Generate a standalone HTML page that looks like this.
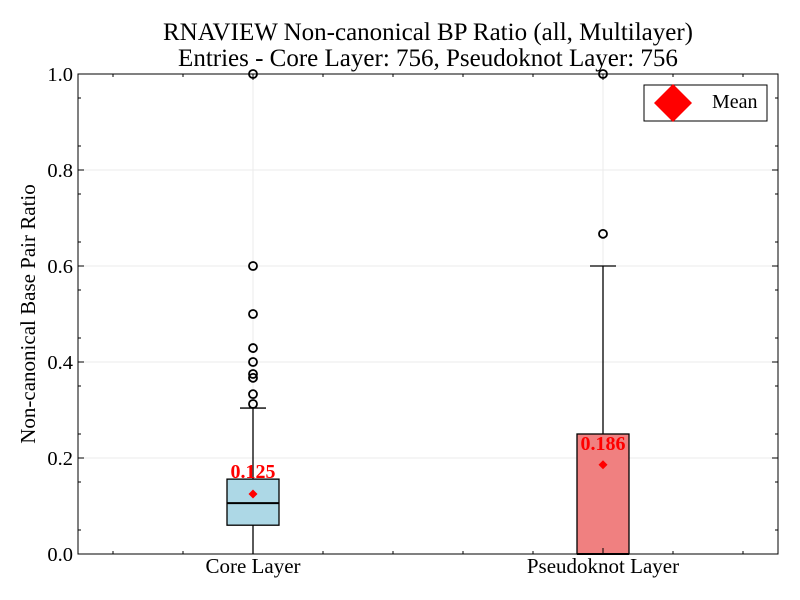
<!DOCTYPE html>
<html><head><meta charset="utf-8"><style>body{margin:0;background:#fff}svg{display:block}</style></head>
<body>
<svg id="chart" width="800" height="600" viewBox="0 0 800 600" xmlns="http://www.w3.org/2000/svg" font-family="Liberation Serif, serif">
<text x="428" y="40" text-anchor="middle" font-size="25">RNAVIEW Non-canonical BP Ratio (all, Multilayer)</text>
<text x="428" y="66" text-anchor="middle" font-size="25">Entries - Core Layer: 756, Pseudoknot Layer: 756</text>
<text transform="translate(35,314) rotate(-90)" text-anchor="middle" font-size="21">Non-canonical Base Pair Ratio</text>
<g id="grid"></g><g id="marks"></g><g id="axes"></g>
<rect x="78" y="74" width="700" height="480" fill="none" stroke="#000" stroke-width="1"/>
<g>
<rect x="644" y="85" width="123" height="36" fill="#fff" stroke="#000"/>
<path d="M673 84 L692 103 L673 122 L654 103 Z" fill="red"/>
<text x="712" y="108" font-size="20">Mean</text>
</g>
</svg>
<script>
const categories = ["Core Layer", "Pseudoknot Layer"];
const q1 = [0.060, 0.0];
const medians = [0.106, 0.0];
const q3 = [0.156, 0.25];
const whiskLo = [0.0, 0.0];
const whiskHi = [0.304, 0.6];
const means = [0.125, 0.186];
const meanLabels = ["0.125", "0.186"];
const outliers = [[1.0, 0.6, 0.5, 0.429, 0.4, 0.375, 0.367, 0.333, 0.3125], [1.0, 0.667]];
const colors = ["#add8e6", "#f08080"];
const yTicks = [0, 0.2, 0.4, 0.6, 0.8, 1.0];
const yTickLabels = ["0.0", "0.2", "0.4", "0.6", "0.8", "1.0"];

const NS = "http://www.w3.org/2000/svg";
const L = 78, R = 778, T = 74, B = 554;
const y = v => B - v * (B - T);
const x = i => 253 + i * 350;
function mk(tag, attrs, parent) { const e = document.createElementNS(NS, tag); for (const k in attrs) e.setAttribute(k, attrs[k]); parent.appendChild(e); return e; }
const grid = document.getElementById('grid'), marks = document.getElementById('marks'), axes = document.getElementById('axes');

yTicks.forEach((v, i) => {
  const g = mk('line', {x1: L, x2: R, y1: y(v), y2: y(v), stroke: '#ebebeb', 'stroke-width': 1}, grid);
  
  
  mk('line', {x1: L, x2: L + 6, y1: y(v), y2: y(v), stroke: '#000'}, axes);
  mk('line', {x1: R, x2: R - 6, y1: y(v), y2: y(v), stroke: '#000'}, axes);
  const t = mk('text', {x: L - 5, y: y(v) + 7, 'text-anchor': 'end', 'font-size': 20.5}, axes);
  t.textContent = yTickLabels[i];
  
  
});
for (let v = 0.05; v < 1; v += 0.1) {
  mk('line', {x1: L, x2: L + 3, y1: y(v), y2: y(v), stroke: '#000'}, axes);
  mk('line', {x1: R, x2: R - 3, y1: y(v), y2: y(v), stroke: '#000'}, axes);
}
for (let xm = 113; xm < R; xm += 70) {
  mk('line', {x1: xm, x2: xm, y1: B, y2: B - 3, stroke: '#000'}, axes);
  mk('line', {x1: xm, x2: xm, y1: T, y2: T + 3, stroke: '#000'}, axes);
}
categories.forEach((c, i) => {
  const cx = x(i);
  const g = mk('line', {x1: cx, x2: cx, y1: T, y2: B, stroke: '#ebebeb'}, grid);
  
  
  mk('line', {x1: cx, x2: cx, y1: B, y2: B - 6, stroke: '#000'}, axes);
  mk('line', {x1: cx, x2: cx, y1: T, y2: T + 6, stroke: '#000'}, axes);
  const t = mk('text', {x: cx, y: 573, 'text-anchor': 'middle', 'font-size': 21}, axes);
  t.textContent = c;
  
  

  const w = mk('line', {x1: cx, x2: cx, y1: y(q3[i]), y2: y(whiskHi[i]), stroke: '#000', 'stroke-width': 1.3}, marks);
  
  
  const cap = mk('line', {x1: cx - 13, x2: cx + 13, y1: y(whiskHi[i]), y2: y(whiskHi[i]), stroke: '#000', 'stroke-width': 1.3}, marks);
  
  
  const wl = mk('line', {x1: cx, x2: cx, y1: y(q1[i]), y2: y(whiskLo[i]), stroke: '#000', 'stroke-width': 1.3}, marks);
  
  
  const box = mk('rect', {x: cx - 26, y: y(q3[i]), width: 52, height: y(q1[i]) - y(q3[i]), fill: colors[i], stroke: '#000', 'stroke-width': 1.3}, marks);
  
  
  const med = mk('line', {x1: cx - 26, x2: cx + 26, y1: y(medians[i]), y2: y(medians[i]), stroke: '#000', 'stroke-width': 2}, marks);
  
  
  outliers[i].forEach(o => {
    const c2 = mk('circle', {cx: cx, cy: y(o), r: 4, fill: 'none', stroke: '#000', 'stroke-width': 1.8}, marks);
    
    
  });
  const my = y(means[i]);
  const m = mk('path', {d: `M${cx} ${my - 4.5} L${cx + 4.5} ${my} L${cx} ${my + 4.5} L${cx - 4.5} ${my} Z`, fill: 'red'}, marks);
  
  
  const ml = mk('text', {x: cx, y: y(q3[i]), dy: i === 0 ? '-1' : '16', 'text-anchor': 'middle', 'font-size': 20, 'font-weight': 'bold', fill: 'red'}, marks);
  ml.textContent = meanLabels[i];
  
  
});
</script>
</body></html>
